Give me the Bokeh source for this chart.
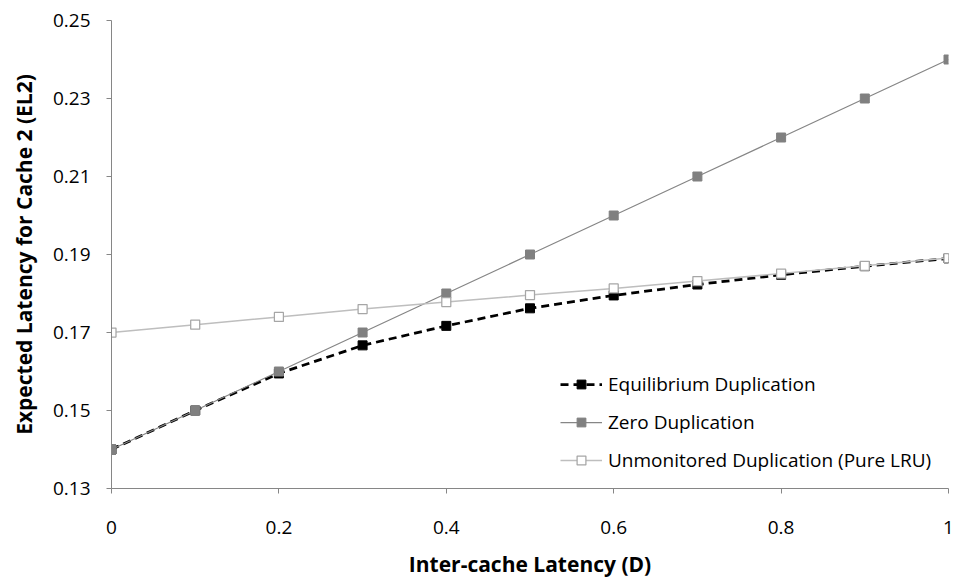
from bokeh.plotting import figure
from bokeh.models import FixedTicker, Range1d
from bokeh.embed import file_html
from bokeh.resources import INLINE

D = [0.0, 0.1, 0.2, 0.3, 0.4, 0.5, 0.6, 0.7, 0.8, 0.9, 1.0]
equilibrium = [0.140, 0.150, 0.1595, 0.1667, 0.1717, 0.1762, 0.1795, 0.1823, 0.1848, 0.1870, 0.1890]
zero_dup = [0.140, 0.150, 0.160, 0.170, 0.180, 0.190, 0.200, 0.210, 0.220, 0.230, 0.240]
unmonitored = [0.170, 0.172, 0.174, 0.176, 0.1778, 0.1796, 0.1813, 0.1832, 0.1851, 0.1871, 0.1891]

x_ticks = [0, 0.2, 0.4, 0.6, 0.8, 1.0]
x_tick_labels = ["0", "0.2", "0.4", "0.6", "0.8", "1"]
y_ticks = [0.13, 0.15, 0.17, 0.19, 0.21, 0.23, 0.25]
y_tick_labels = ["0.13", "0.15", "0.17", "0.19", "0.21", "0.23", "0.25"]

FONT = "Open Sans"

p = figure(width=956, height=580, output_backend="svg", toolbar_location=None,
           x_range=Range1d(0, 1), y_range=Range1d(0.13, 0.25),
           min_border_left=111, min_border_right=8, min_border_top=20, min_border_bottom=91)
p.outline_line_color = None
p.xgrid.grid_line_color = None
p.ygrid.grid_line_color = None

# Series
p.line(D, equilibrium, line_color="black", line_width=2.75, line_dash="8 5",
       legend_label="Equilibrium Duplication")
p.scatter(D, equilibrium, marker="square", size=9, fill_color="black", line_color="black",
          legend_label="Equilibrium Duplication")

p.line(D, zero_dup, line_color="#868686", line_width=1.25, legend_label="Zero Duplication")
p.scatter(D, zero_dup, marker="square", size=9, fill_color="#808080", line_color="#808080",
          legend_label="Zero Duplication")

p.line(D, unmonitored, line_color="#BEBEBE", line_width=1.5,
       legend_label="Unmonitored Duplication (Pure LRU)")
p.scatter(D, unmonitored, marker="square", size=9, fill_color="white", line_color="#A6A6A6",
          line_width=1.25, legend_label="Unmonitored Duplication (Pure LRU)")

# Axes
p.xaxis.ticker = FixedTicker(ticks=x_ticks)
p.xaxis.major_label_overrides = dict(zip(x_ticks, x_tick_labels))
p.yaxis.ticker = FixedTicker(ticks=y_ticks)
p.yaxis.major_label_overrides = dict(zip(y_ticks, y_tick_labels))

for ax in (p.xaxis, p.yaxis):
    ax.axis_line_color = "#868686"
    ax.major_tick_line_color = "#868686"
    ax.major_tick_in = 0
    ax.major_tick_out = 5
    ax.minor_tick_line_color = None
    ax.major_label_text_font = FONT
    ax.major_label_text_font_size = "19px"
    ax.major_label_text_color = "black"
    ax.axis_label_text_font = FONT
    ax.axis_label_text_font_size = "21px"
    ax.axis_label_text_font_style = "bold"
    ax.axis_label_text_color = "black"

p.xaxis.axis_label = "Inter-cache Latency (D)"
p.yaxis.axis_label = "Expected Latency for Cache 2 (EL2)"
p.xaxis.major_label_standoff = 27
p.xaxis.axis_label_standoff = 13
p.yaxis.major_label_standoff = 16
p.yaxis.axis_label_standoff = 12

# Legend
lg = p.legend[0]
lg.location = (449, 15)
lg.border_line_color = None
lg.background_fill_alpha = 0
lg.padding = 0
lg.margin = 0
lg.spacing = 12
lg.glyph_width = 42
lg.glyph_height = 22
lg.label_height = 22
lg.label_standoff = 6
lg.label_text_font = FONT
lg.label_text_font_size = "19px"
lg.label_text_color = "black"

open("out.html", "w").write(file_html(p, INLINE))
